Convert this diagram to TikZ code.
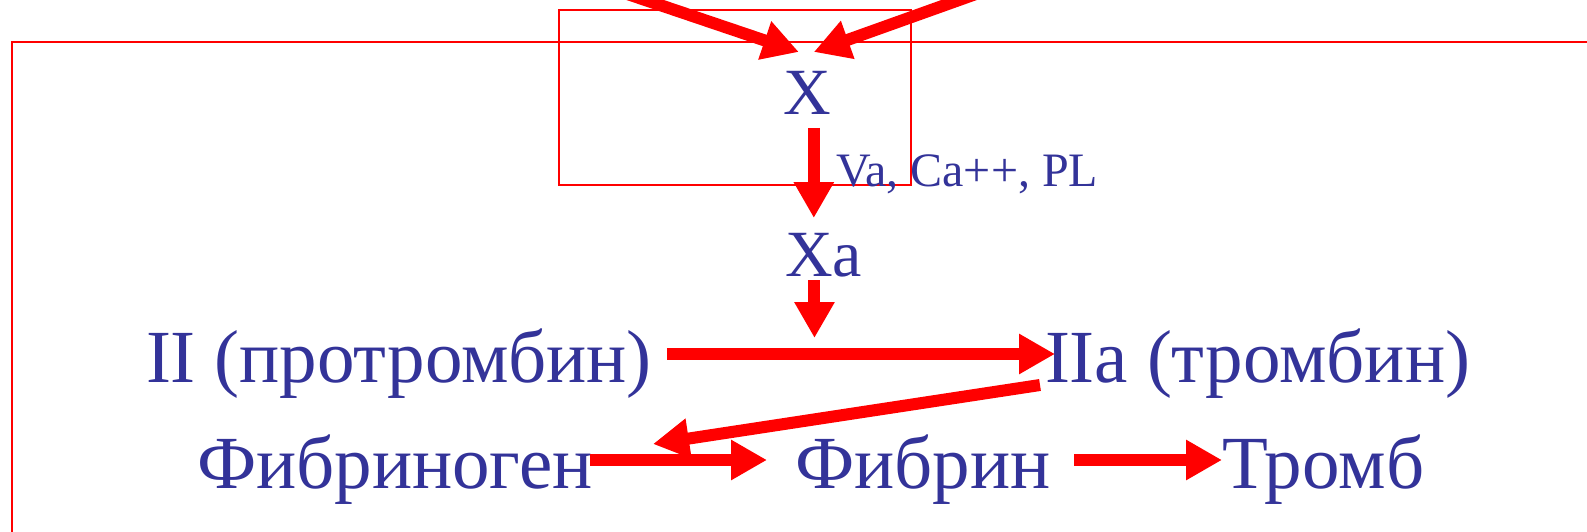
\documentclass[tikz,border=0pt]{standalone}
\usepackage{fontspec}
\setmainfont{Liberation Serif}
\usetikzlibrary{arrows.meta,calc}
\definecolor{txtblue}{RGB}{51,51,153}
\begin{document}
\begin{tikzpicture}[x=1pt,y=-1pt,
  lblbase/.style={inner sep=0pt, outer sep=0pt, text=txtblue, anchor=base west},
  big/.style={lblbase, font=\fontsize{75}{80}\selectfont, text height=56pt, text depth=0pt},
  mid/.style={lblbase, font=\fontsize{66}{70}\selectfont, text height=49pt, text depth=0pt},
  small/.style={lblbase, font=\fontsize{48}{50}\selectfont},
  arr/.style={draw=red, line width=12pt, -{Triangle[length=36pt,width=38pt]}},
  frame/.style={draw=red, line width=1.5pt}]
\useasboundingbox (0,0) rectangle (1587,532);
\clip (0,0) rectangle (1587,532);
\fill[white] (0,0) rectangle (1587,532);

% frames
\draw[frame] (559,10) rectangle (911,185);
\draw[frame] (12,600) -- (12,42) -- (1700,42);

% texts
\node[mid] (X) at (783,115) {X};
\node[mid] (Xa) at (785,276) {Xa};
\node[small] (cof) at (836,186) {Va, Ca++, PL};
\node[big] (II) at (146,382) {II (протромбин)};
\node[big] (IIa) at (1045,382) {IIa (тромбин)};
\node[big] (fgen) at (197,488) {Фибриноген};
\node[big] (fib) at (795,488) {Фибрин};
\node[big] (tromb) at (1222,488) {Тромб};

% free ends
\coordinate (t1) at (586,-20);
\coordinate (t2) at (1015,-20);
\path ([shift={(7,13)}]X.south) coordinate (v1);
\path (v1 |- Xa.north) coordinate (v2);

% arrows
\draw[arr] (t1) -- ([shift={(-8,-14)}]X.north);
\draw[arr] (t2) -- ([shift={(7,-14)}]X.north);
\draw[arr] (v1) -- ([shift={(0,-9)}]v2);
\draw[arr] ([shift={(-9,4)}]Xa.south) -- ([shift={(-9,62)}]Xa.south);
\draw[arr] ([shift={(15,0)}]II.east) -- ([shift={(10,0)}]IIa.west);
\draw[arr] ([shift={(-5,31)}]IIa.west) -- ([shift={(60,-16)}]fgen.east);
\draw[arr] ([shift={(-3,0)}]fgen.east) -- ([shift={(-28,0)}]fib.west);
\draw[arr] ([shift={(24,0)}]fib.east) -- (tromb.west);
\end{tikzpicture}
\end{document}
